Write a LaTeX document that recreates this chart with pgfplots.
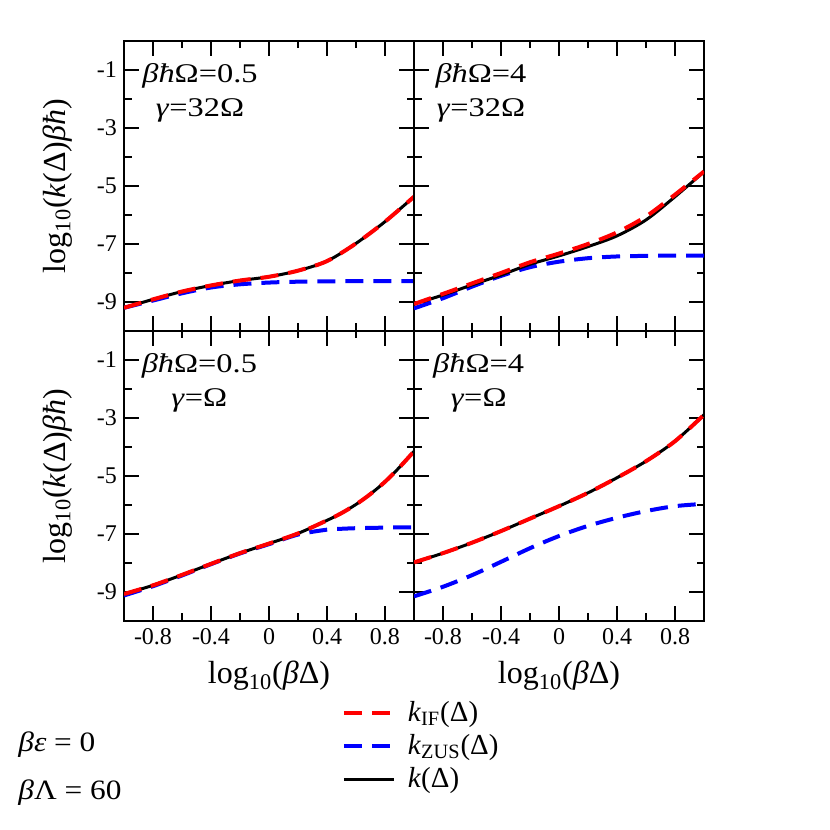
\documentclass[border=0pt]{standalone}
\usepackage{fontspec}
\setmainfont{Liberation Serif}
\newfontfamily\widefont{Liberation Serif}[FakeStretch=1.2]
\newfontfamily\midfont{Liberation Serif}[FakeStretch=1.12]
\usepackage{pgfplots}
\pgfplotsset{compat=1.18}

% top-left: betahbarOmega=0.5, gamma=32 Omega
\pgfplotstableread{
x kIF kZUS k
-1.0 -9.20 -9.20 -9.20
-0.8 -8.91 -8.95 -8.91
-0.6 -8.64 -8.70 -8.64
-0.4 -8.43 -8.50 -8.43
-0.2 -8.26 -8.39 -8.26
0.0 -8.13 -8.33 -8.13
0.2 -7.92 -8.30 -7.92
0.4 -7.59 -8.29 -7.59
0.6 -6.98 -8.28 -6.98
0.8 -6.23 -8.28 -6.23
1.0 -5.37 -8.28 -5.37
}\tabTL
% top-right: betahbarOmega=4, gamma=32 Omega
\pgfplotstableread{
x kIF kZUS k
-1.0 -9.07 -9.22 -9.07
-0.8 -8.72 -8.87 -8.76
-0.6 -8.36 -8.47 -8.41
-0.4 -8.00 -8.10 -8.07
-0.2 -7.63 -7.80 -7.70
0.0 -7.33 -7.61 -7.41
0.2 -7.00 -7.49 -7.09
0.4 -6.60 -7.43 -6.72
0.6 -6.05 -7.41 -6.17
0.8 -5.30 -7.40 -5.37
1.0 -4.50 -7.40 -4.51
}\tabTR
% bottom-left: betahbarOmega=0.5, gamma=Omega
\pgfplotstableread{
x kIF kZUS k
-1.0 -9.07 -9.12 -9.07
-0.8 -8.77 -8.80 -8.77
-0.6 -8.41 -8.43 -8.41
-0.4 -8.03 -8.04 -8.03
-0.2 -7.66 -7.67 -7.66
0.0 -7.33 -7.35 -7.33
0.2 -6.98 -7.02 -6.98
0.4 -6.53 -6.85 -6.53
0.5 -6.28 -6.82 -6.28
0.6 -5.98 -6.80 -5.98
0.7 -5.62 -6.79 -5.62
0.8 -5.20 -6.78 -5.20
0.9 -4.70 -6.77 -4.70
1.0 -4.15 -6.77 -4.15
}\tabBL
% bottom-right: betahbarOmega=4, gamma=Omega
\pgfplotstableread{
x kIF kZUS k
-1.0 -7.98 -9.15 -7.98
-0.8 -7.66 -8.82 -7.66
-0.6 -7.30 -8.42 -7.30
-0.4 -6.90 -7.96 -6.90
-0.2 -6.47 -7.49 -6.47
0.0 -6.04 -7.07 -6.04
0.2 -5.58 -6.72 -5.58
0.4 -5.06 -6.44 -5.06
0.6 -4.49 -6.21 -4.49
0.8 -3.80 -6.04 -3.80
1.0 -2.89 -5.96 -2.89
}\tabBR

\tikzset{
  ifs/.style={red, line width=2pt, dash pattern=on 9pt off 5pt},
  zus/.style={blue, line width=2pt, dash pattern=on 9pt off 5pt},
  kk/.style={black, line width=1.5pt},
  ann/.style={font=\widefont\fontsize{13.5pt}{17pt}\selectfont, align=center, anchor=north, inner sep=0pt},
}
\pgfplotsset{
  panel/.style={
    scale only axis, width=145pt, height=145pt,
    xmin=-1, xmax=1, ymin=-10, ymax=0,
    xtick={-0.8,-0.4,0,0.4,0.8},
    minor xtick={-0.6,-0.2,0.2,0.6},
    ytick={-9,-7,-5,-3,-1},
    minor ytick={-8,-6,-4,-2},
    xtick pos=both, ytick pos=both, tick align=inside,
    major tick length=7.5pt, minor tick length=3.75pt,
    axis line style={line width=1.3pt},
    every tick/.append style={black, line width=1.2pt},
    tick label style={font=\rmfamily\fontsize{12pt}{14pt}\selectfont},
    /pgf/number format/assume math mode=true,
    xticklabel style={/pgf/number format/.cd, fixed, precision=1},
    every axis y label/.style={at={(axis description cs:-0.23,0.5)}, rotate=90, anchor=center,
      font=\rmfamily\fontsize{16pt}{18pt}\selectfont},
    every axis x label/.style={at={(axis description cs:0.5,-0.19)}, anchor=center,
      font=\rmfamily\fontsize{16pt}{18pt}\selectfont},
  },
}

\begin{document}
\begin{tikzpicture}[x=0.5pt,y=0.5pt]
\path[use as bounding box] (0,0) rectangle (830,830);

% top-left
\begin{axis}[panel, at={(62pt,249.5pt)}, anchor=south west,
  xticklabels={}, ylabel={log\textsubscript{10}(\textit{k}(Δ)\textit{βħ})}]
\addplot[zus, smooth] table[x=x,y=kZUS] {\tabTL};
\addplot[kk, smooth] table[x=x,y=k] {\tabTL};
\addplot[ifs, smooth] table[x=x,y=kIF] {\tabTL};
\node[ann] at (axis description cs:0.262,0.925) {\textit{βħ}Ω=0.5\\\textit{γ}=32Ω};
\end{axis}

% top-right
\begin{axis}[panel, at={(207pt,249.5pt)}, anchor=south west,
  xticklabels={}, yticklabels={}]
\addplot[zus, smooth] table[x=x,y=kZUS] {\tabTR};
\addplot[kk, smooth] table[x=x,y=k] {\tabTR};
\addplot[ifs, smooth] table[x=x,y=kIF] {\tabTR};
\node[ann] at (axis description cs:0.231,0.925) {\textit{βħ}Ω=4\\\textit{γ}=32Ω};
\end{axis}

% bottom-left
\begin{axis}[panel, at={(62pt,104.5pt)}, anchor=south west,
  xlabel={log\textsubscript{10}(\textit{β}Δ)},
  ylabel={log\textsubscript{10}(\textit{k}(Δ)\textit{βħ})},
  legend style={at={(axis description cs:0.75,-0.262)}, anchor=north west,
    draw=none, fill=none, font=\rmfamily\fontsize{14.5pt}{17pt}\selectfont,
    row sep=1pt, column sep=4pt, inner sep=0pt},
  legend cell align=left,
  legend image code/.code={\draw[#1] (0pt,0pt) -- (25pt,0pt);}]
\addlegendimage{ifs}
\addlegendentry{\textit{k}\textsubscript{IF}(Δ)}
\addlegendimage{zus}
\addlegendentry{\textit{k}\textsubscript{ZUS}(Δ)}
\addlegendimage{kk}
\addlegendentry{\textit{k}(Δ)}
\addplot[zus, smooth, forget plot] table[x=x,y=kZUS] {\tabBL};
\addplot[kk, smooth, forget plot] table[x=x,y=k] {\tabBL};
\addplot[ifs, smooth, forget plot] table[x=x,y=kIF] {\tabBL};
\node[ann] at (axis description cs:0.26,0.925) {\textit{βħ}Ω=0.5\\\textit{γ}=Ω};
\end{axis}

% bottom-right
\begin{axis}[panel, at={(207pt,104.5pt)}, anchor=south west,
  yticklabels={}, xlabel={log\textsubscript{10}(\textit{β}Δ)}]
\addplot[zus, smooth] table[x=x,y=kZUS] {\tabBR};
\addplot[kk, smooth] table[x=x,y=k] {\tabBR};
\addplot[ifs, smooth] table[x=x,y=kIF] {\tabBR};
\node[ann] at (axis description cs:0.223,0.925) {\textit{βħ}Ω=4\\\textit{γ}=Ω};
\end{axis}

\node[anchor=west, inner sep=0pt, font=\midfont\fontsize{14pt}{16pt}\selectfont] at (18,85) {\textit{βε} = 0};
\node[anchor=west, inner sep=0pt, font=\midfont\fontsize{14pt}{16pt}\selectfont] at (18,37) {\textit{β}Λ = 60};
\end{tikzpicture}
\end{document}
